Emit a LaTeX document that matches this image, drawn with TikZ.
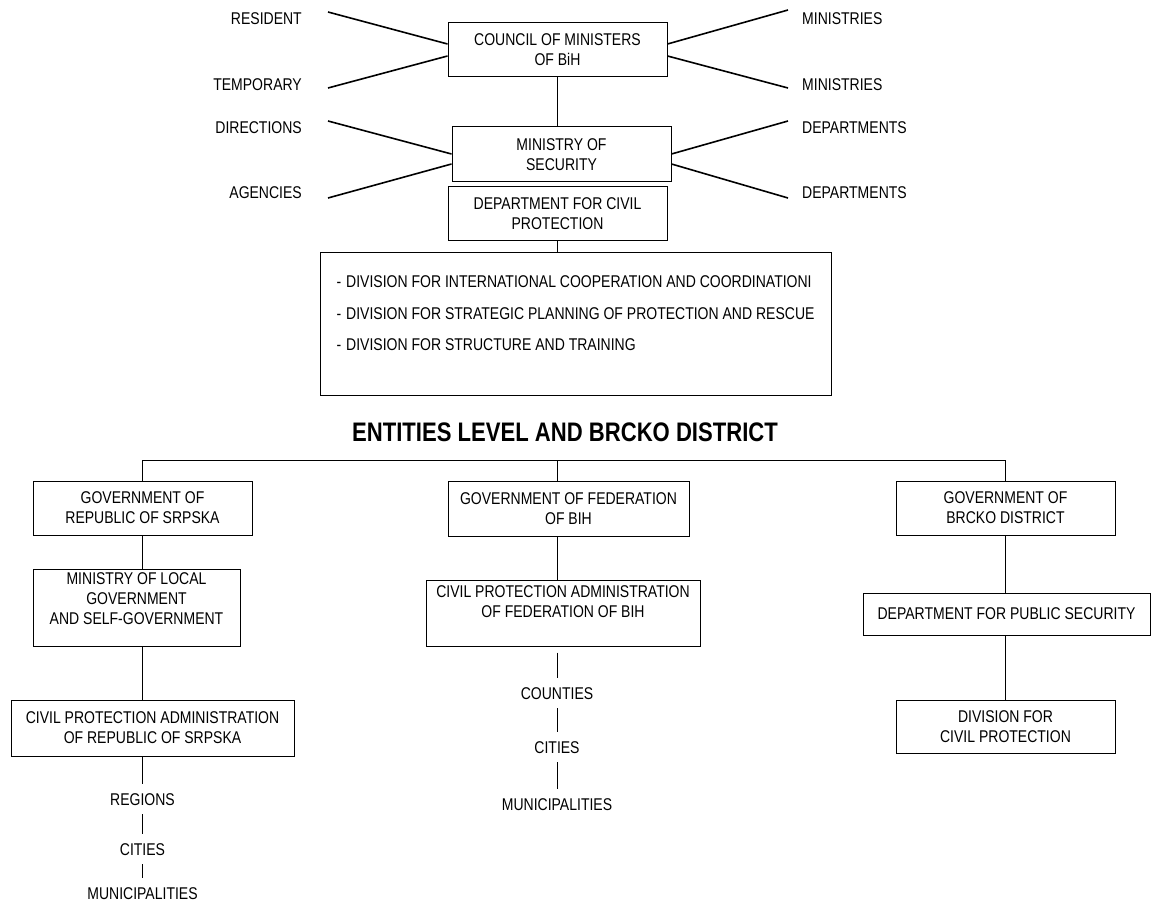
\documentclass[tikz,border=0pt]{standalone}
\usepackage{fontspec}
\setmainfont{Liberation Sans}[FakeStretch=0.824]
\usetikzlibrary{calc}
\begin{document}
\begin{tikzpicture}[x=1pt,y=-1pt,font=\fontsize{17}{20}\selectfont,
  box/.style={draw,line width=1pt,align=center,inner sep=2pt},
  lbl/.style={inner sep=0pt,text height=12pt,text depth=0pt},
  chainlbl/.style={lbl,minimum height=30pt},
  spoke/.style={line width=1.6pt},
  link/.style={line width=1pt}]
  \useasboundingbox (0,0) rectangle (1151,901);
  \node[box,minimum width=219pt,minimum height=54pt] (council) at (557.5,50) {COUNCIL OF MINISTERS\\OF BiH};
  \node[box,minimum width=219pt,minimum height=55pt] (minsec) at (561.5,154.5) {MINISTRY OF\\SECURITY};
  \node[box,minimum width=219pt,minimum height=54pt] (deptcp) at (557.5,214) {DEPARTMENT FOR CIVIL\\PROTECTION};
  \node[box,minimum width=511pt,minimum height=142pt,align=left,
    font=\fontsize{17}{31.5}\selectfont] (divisions) at (575.5,324)
    {-\hspace{5pt}DIVISION FOR INTERNATIONAL COOPERATION AND COORDINATIONI\\
     -\hspace{5pt}DIVISION FOR STRATEGIC PLANNING OF PROTECTION AND RESCUE\\
     -\hspace{5pt}DIVISION FOR STRUCTURE AND TRAINING\\[-10.5pt]\mbox{}};
  \node[lbl,anchor=east] (resident) at (302,19) {RESIDENT};
  \node[lbl,anchor=east] (temporary) at (302,85) {TEMPORARY};
  \node[lbl,anchor=east] (directions) at (302,128) {DIRECTIONS};
  \node[lbl,anchor=east] (agencies) at (302,193) {AGENCIES};
  \node[lbl,anchor=west] (ministriesa) at (802,19) {MINISTRIES};
  \node[lbl,anchor=west] (ministriesb) at (802,85) {MINISTRIES};
  \node[lbl,anchor=west] (deptsa) at (802,128) {DEPARTMENTS};
  \node[lbl,anchor=west] (deptsb) at (802,193) {DEPARTMENTS};
  \draw[spoke] ($(resident.east)+(26,-7)$) -- ($(council.west)+(0,-6)$);
  \draw[spoke] ($(temporary.east)+(26,3)$) -- ($(council.west)+(0,6)$);
  \draw[spoke] ($(directions.east)+(26,-7)$) -- ($(minsec.west)+(0,-0.5)$);
  \draw[spoke] ($(agencies.east)+(26,5)$) -- ($(minsec.west)+(0,9.5)$);
  \draw[spoke] ($(council.east)+(0,-6)$) -- ($(ministriesa.west)+(-14,-9)$);
  \draw[spoke] ($(council.east)+(0,6)$) -- ($(ministriesb.west)+(-14,3)$);
  \draw[spoke] ($(minsec.east)+(0,-0.5)$) -- ($(deptsa.west)+(-14,-7)$);
  \draw[spoke] ($(minsec.east)+(0,9.5)$) -- ($(deptsb.west)+(-14,5)$);
  \draw[link] (council.south) -- (council.south |- minsec.north);
  \draw[link] (deptcp.south) -- (deptcp.south |- divisions.north);
  \node[font=\bfseries\fontsize{26.8}{30}\selectfont] (entities) at (565,432) {ENTITIES LEVEL AND BRCKO DISTRICT};
  \node[box,minimum width=219pt,minimum height=54pt] (govrs) at (142.5,508) {GOVERNMENT OF\\REPUBLIC OF SRPSKA};
  \node[box,minimum width=241pt,minimum height=55pt] (govfed) at (568.5,508.5) {GOVERNMENT OF FEDERATION\\OF BIH};
  \node[box,minimum width=219pt,minimum height=54pt] (govbr) at (1005.5,508) {GOVERNMENT OF\\BRCKO DISTRICT};
  \node[box,minimum width=207pt,minimum height=77pt,inner sep=0pt] (minloc) at (136.5,607.5) {MINISTRY OF LOCAL\\GOVERNMENT\\AND SELF-GOVERNMENT\\[-2pt]\mbox{}};
  \node[box,minimum width=274pt,minimum height=66pt] (cpafed) at (563,613) {CIVIL PROTECTION ADMINISTRATION\\OF FEDERATION OF BIH\\[2pt]\mbox{}};
  \node[box,minimum width=287pt,minimum height=42pt] (dps) at (1006.5,614) {DEPARTMENT FOR PUBLIC SECURITY};
  \node[box,minimum width=283pt,minimum height=56pt] (cprs) at (152.5,728) {CIVIL PROTECTION ADMINISTRATION\\OF REPUBLIC OF SRPSKA};
  \node[box,minimum width=219pt,minimum height=53pt] (divcp) at (1005.5,726.5) {DIVISION FOR\\CIVIL PROTECTION};
  \node[chainlbl] (regions) at (142.5,799) {REGIONS};
  \node[chainlbl] (citiesl) at (142.5,849) {CITIES};
  \node[chainlbl] (munil) at (142.5,893) {MUNICIPALITIES};
  \node[chainlbl] (counties) at (557,693) {COUNTIES};
  \node[chainlbl] (citiesm) at (557,747) {CITIES};
  \node[chainlbl] (munim) at (557,804) {MUNICIPALITIES};
  \coordinate (bus) at (557,460.5);
  \draw[link] (govrs.north) |- (bus) -| (govbr.north);
  \draw[link] (bus) -- (bus |- govfed.north);
  \draw[link] (govrs.south) -- (govrs.south |- minloc.north);
  \draw[link] (minloc.south -| govrs.south) -- (govrs.south |- cprs.north);
  \draw[link] (cprs.south -| regions) -- (regions.north);
  \draw[link] (regions.south) -- (citiesl.north);
  \draw[link] (citiesl.south) -- (munil.north);
  \draw[link] (govfed.south -| bus) -- (cpafed.north -| bus);
  \draw[link] ($(cpafed.south -| bus)+(0,6)$) -- (counties.north);
  \draw[link] (counties.south) -- (citiesm.north);
  \draw[link] (citiesm.south) -- (munim.north);
  \draw[link] (govbr.south) -- (govbr.south |- dps.north);
  \draw[link] (dps.south -| divcp.north) -- (divcp.north);
\end{tikzpicture}
\end{document}
